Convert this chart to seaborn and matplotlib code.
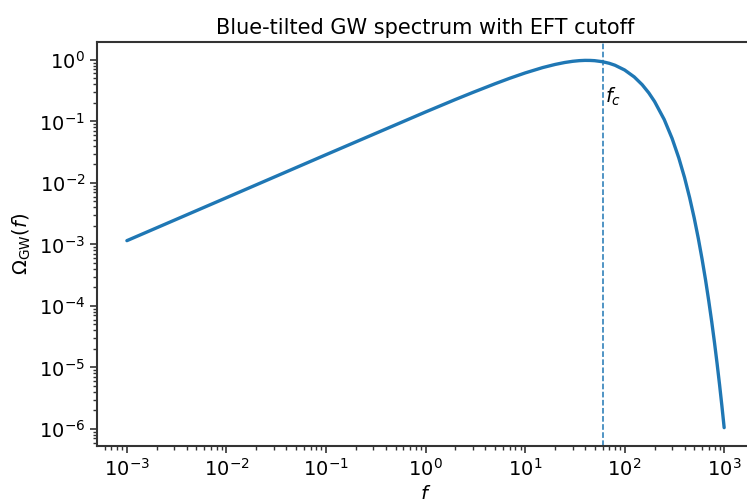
import matplotlib
matplotlib.use("Agg")
import matplotlib.pyplot as plt
import seaborn as sns
import pandas as pd

# Frequencies and spectrum values of the blue-tilted GW spectrum
freq = [0.001, 0.01, 0.1, 1, 2, 3, 5, 7, 10, 15, 20, 25, 30, 35, 40, 45, 50,
        60, 70, 80, 100, 125, 150, 175, 200, 250, 300, 350, 400, 450, 500,
        550, 600, 650, 700, 750, 800, 850, 900, 950, 1000]
omega = [1.15e-3, 5.74e-3, 2.87e-2, 0.142, 0.227, 0.296, 0.409, 0.501, 0.612,
         0.748, 0.841, 0.905, 0.946, 0.970, 0.980, 0.978, 0.969,
         0.932, 0.879, 0.817, 0.684, 0.527, 0.395, 0.290, 0.210, 0.107,
         5.27e-2, 2.55e-2, 1.22e-2, 5.74e-3, 2.69e-3,
         1.25e-3, 5.76e-4, 2.65e-4, 1.21e-4, 5.53e-5, 2.52e-5, 1.14e-5,
         5.16e-6, 2.33e-6, 1.05e-6]
f_cut = 60.0
fc_label_y = 0.25

df = pd.DataFrame({"f": freq, "omega": omega})

sns.set_theme(style="ticks")
plt.rcParams["font.family"] = ["DejaVu Sans"]
plt.rcParams["mathtext.fontset"] = "dejavusans"

fig = plt.figure(figsize=(7.47, 4.99), dpi=100)
ax = fig.add_axes([0.1299, 0.1062, 0.8795, 0.8096])

sns.lineplot(data=df, x="f", y="omega", ax=ax, color="#1f77b4", linewidth=2.4)
ax.set_xscale("log")
ax.set_yscale("log")
ax.axvline(f_cut, color="#1f77b4", linestyle="--", linewidth=1.1)
ax.text(f_cut * 1.06, fc_label_y, r"$f_c$", fontsize=14, va="center", ha="left",
        color="black")

ax.set_title("Blue-tilted GW spectrum with EFT cutoff", fontsize=15, color="black")
ax.set_xlabel(r"$f$", fontsize=14, color="black")
ax.set_ylabel(r"$\Omega_{\rm GW}(f)$", fontsize=14, color="black")
ax.tick_params(axis="both", which="major", labelsize=14, length=5, width=1.2,
               colors="#333333", labelcolor="black")
ax.tick_params(axis="both", which="minor", length=3, width=1.0, colors="#333333")
for s in ax.spines.values():
    s.set_color("#333333")
    s.set_linewidth(1.5)

fig.savefig("out.png", dpi=100)
